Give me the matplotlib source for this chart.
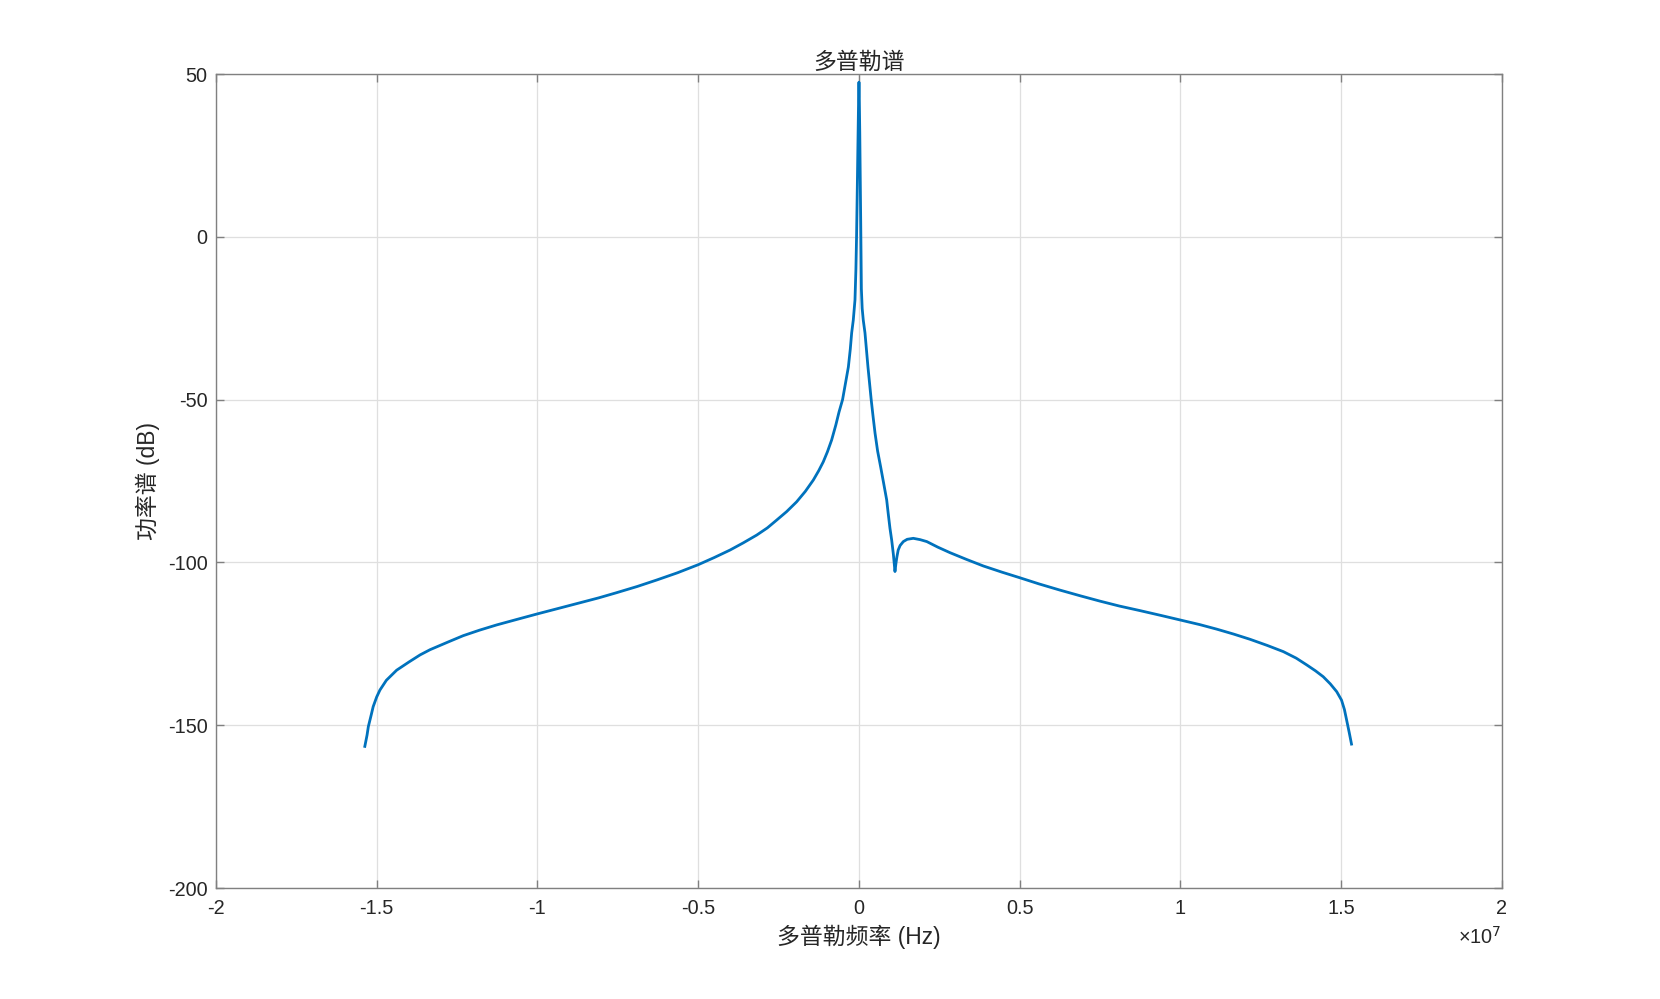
import numpy as np
import matplotlib
matplotlib.use('Agg')
import matplotlib.pyplot as plt
from matplotlib.ticker import FuncFormatter

plt.rcParams['font.family'] = ['Liberation Sans', 'Noto Sans CJK SC', 'DejaVu Sans']
plt.rcParams['axes.unicode_minus'] = False

# 多普勒频率 (单位 1e7 Hz) 和功率谱 (dB)
freq_e7 = [
    -1.537, -1.530, -1.526, -1.518, -1.511, -1.500, -1.490, -1.470, -1.438, -1.400,
    -1.365, -1.334, -1.277, -1.231, -1.180, -1.127, -1.060, -1.000, -0.930, -0.868,
    -0.810, -0.754, -0.690, -0.629, -0.565, -0.500, -0.450, -0.401, -0.360, -0.318,
    -0.285, -0.256, -0.225, -0.194, -0.167, -0.142, -0.125, -0.111, -0.098, -0.085,
    -0.072, -0.062, -0.051, -0.042, -0.033, -0.027, -0.0227, -0.0177, -0.0124, -0.0095,
    -0.0075, -0.0052, -0.0030, -0.0012, 0.0,
    0.0010, 0.0025, 0.0040, 0.0055, 0.0065, 0.0075, 0.0100, 0.0134, 0.0187, 0.028,
    0.038, 0.044, 0.050, 0.058, 0.0675, 0.077, 0.0862, 0.091, 0.0964, 0.1017,
    0.107, 0.112, 0.115, 0.118, 0.122, 0.128, 0.138, 0.150, 0.169, 0.190,
    0.211, 0.245, 0.283, 0.335, 0.387, 0.445, 0.500, 0.560, 0.625, 0.690,
    0.750, 0.810, 0.874, 0.940, 1.000, 1.060, 1.113, 1.165, 1.216, 1.270,
    1.320, 1.360, 1.393, 1.420, 1.444, 1.466, 1.486, 1.501, 1.510, 1.517,
    1.525, 1.532,
]
power_db = [
    -156.5, -153.0, -150.4, -147.2, -144.3, -141.3, -139.2, -136.2, -133.1, -130.6,
    -128.4, -126.8, -124.4, -122.5, -120.8, -119.2, -117.4, -115.8, -114.0, -112.4,
    -110.9, -109.3, -107.4, -105.4, -103.2, -100.7, -98.5, -96.2, -94.0, -91.6,
    -89.4, -87.0, -84.4, -81.4, -78.2, -74.7, -71.8, -69.1, -66.0, -62.4,
    -57.8, -53.8, -50.0, -45.0, -40.0, -34.5, -29.5, -25.6, -19.4, -10.0,
    0.0, 15.0, 30.0, 42.0, 47.5,
    43.0, 32.0, 18.0, 4.0, -6.0, -16.0, -22.0, -25.6, -29.5, -40.0,
    -50.0, -55.3, -60.3, -65.8, -70.7, -75.8, -80.8, -85.0, -89.5, -93.1,
    -97.5, -102.8, -100.3, -98.3, -96.2, -94.8, -93.6, -92.9, -92.6, -93.0,
    -93.6, -95.3, -97.0, -99.1, -101.1, -103.0, -104.7, -106.6, -108.5, -110.3,
    -111.9, -113.4, -114.8, -116.3, -117.7, -119.1, -120.5, -122.0, -123.6, -125.5,
    -127.4, -129.4, -131.5, -133.3, -135.1, -137.3, -139.7, -142.3, -145.2, -148.5,
    -152.3, -155.8,
]

x_ticks = [-2, -1.5, -1, -0.5, 0, 0.5, 1, 1.5, 2]
y_ticks = [-200, -150, -100, -50, 0, 50]

freq_hz = np.array(freq_e7) * 1e7

fig = plt.figure(figsize=(16.6, 9.99), dpi=100)
ax = fig.add_axes([0.1301, 0.1111, 0.7747, 0.8148])

ax.plot(freq_hz, power_db, color='#0072BD', linewidth=2.0)

ax.set_xlim(-2e7, 2e7)
ax.set_ylim(-200, 50)
ax.set_xticks(np.array(x_ticks) * 1e7)
ax.set_yticks(y_ticks)
ax.xaxis.set_major_formatter(FuncFormatter(lambda v, p: '%g' % (v / 1e7)))
ax.yaxis.set_major_formatter(FuncFormatter(lambda v, p: '%g' % v))

ax.grid(True, color='#dfdfdf', linewidth=0.9)
ax.set_axisbelow(True)
for s in ax.spines.values():
    s.set_color('#808080')
    s.set_linewidth(1.0)
ax.tick_params(direction='in', top=True, right=True, length=6, width=1.0,
               color='#808080', labelcolor='#262626', labelsize=14.3)
ax.tick_params(axis='x', pad=8)
ax.tick_params(axis='y', pad=6)

ax.set_title('多普勒谱', fontsize=16.5, color='#262626', pad=4)
ax.set_xlabel('多普勒频率 (Hz)', fontsize=16.5, color='#262626', labelpad=5)
ax.set_ylabel('功率谱 (dB)', fontsize=16.5, color='#262626', labelpad=6)
ax.text(1.0, -0.060, '×10$^{7}$', transform=ax.transAxes, ha='right', va='center',
        fontsize=14.3, color='#262626')

fig.savefig('out.png', dpi=100, facecolor='white')
